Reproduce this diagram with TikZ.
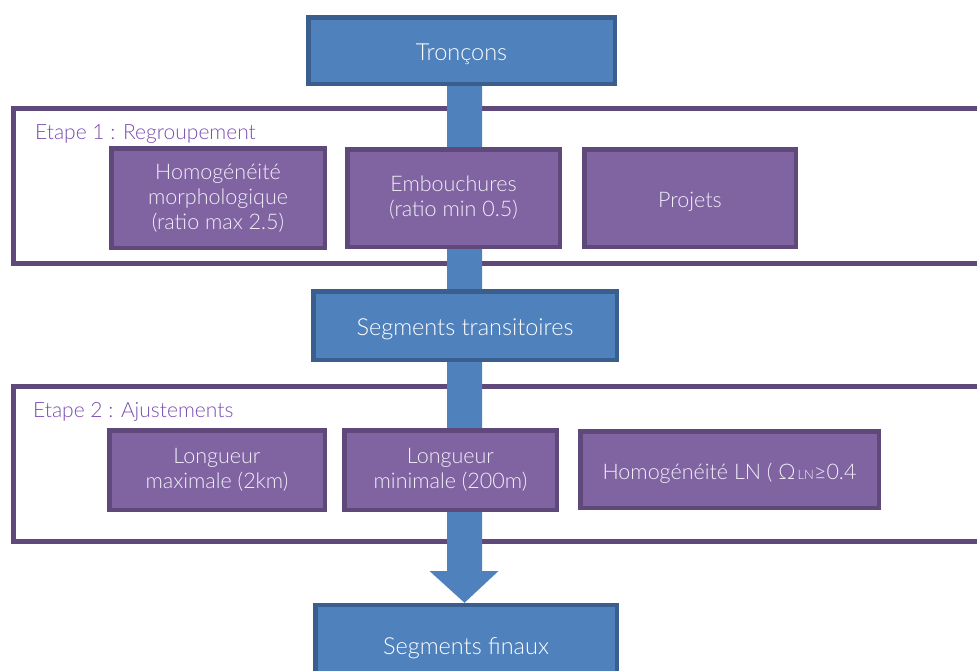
\documentclass[tikz,border=0pt]{standalone}
\usepackage{fontspec}
\setmainfont{Lato}[UprightFont=* Light]
\usetikzlibrary{calc}
\pgfdeclarelayer{back}
\pgfsetlayers{back,main}
\definecolor{bluefill}{HTML}{4F81BD}
\definecolor{blueedge}{HTML}{3A5F8E}
\definecolor{purplefill}{HTML}{8064A2}
\definecolor{purpleedge}{HTML}{5F497A}
\definecolor{purpletext}{HTML}{7B4DB0}
\definecolor{boxtext}{HTML}{F2EEF8}
\tikzset{
  stagebox/.style={draw=purpleedge, line width=5pt, fill=white},
  stagelabel/.style={anchor=west, text=purpletext, font=\fontsize{21}{24}\selectfont, inner sep=0pt},
  lowered/.style={execute at begin node={\rule{0pt}{#1}}},
  bluebox/.style={draw=blueedge, line width=4.5pt, fill=bluefill, text=white,
    font=\fontsize{23.5}{26}\selectfont, align=center, inner sep=0pt, lowered=24pt},
  purplebox/.style={draw=purpleedge, line width=4.5pt, fill=purplefill, text=boxtext,
    font=\fontsize{21.5}{25}\selectfont, align=center, inner sep=0pt, lowered=23pt}
}
\begin{document}
\begin{tikzpicture}[x=1pt,y=-1pt]
\useasboundingbox (0,0) rectangle (977,670);

% main flow nodes
\node[bluebox, minimum width=306.5pt, minimum height=66.5pt] (tron) at (461.5,50.5) {Tronçons};
\node[bluebox, minimum width=303.5pt, minimum height=68.5pt] (trans) at (465,325.5) {Segments transitoires};
\node[bluebox, minimum width=301.5pt, minimum height=80pt] (fin) at (466,645) {Segments finaux};

% step boxes, stage 1
\node[purplebox, minimum width=213.5pt, minimum height=99.5pt] (homo) at (218,198) {Homogénéité\\morphologique\\(ratio max 2.5)};
\node[purplebox, minimum width=212.5pt, minimum height=97.5pt] (emb) at (453.5,198) {Embouchures\\(ratio min 0.5)};
\node[purplebox, minimum width=211.5pt, minimum height=97.5pt] (proj) at (690,198) {Projets};

% step boxes, stage 2
\node[purplebox, minimum width=215.5pt, minimum height=79.5pt] (lmax) at (217,470) {Longueur\\maximale (2km)};
\node[purplebox, minimum width=212.5pt, minimum height=79.5pt] (lmin) at (450.5,470) {Longueur\\minimale (200m)};
\node[purplebox, minimum width=298.5pt, minimum height=76.5pt] (hln) at (729.5,469.5) {Homogénéité LN ( Ω{\fontsize{13}{14}\selectfont\,LN}≥0.4};

\begin{pgfonlayer}{back}
  % stage frames
  \draw[stagebox] (13.5,108.5) rectangle (995,263.5);
  \draw[stagebox] (13.5,386.5) rectangle (995,541.5);
  % flow arrow, above the frames and behind the boxes
  \coordinate (headbase) at (464.5,571);
  \fill[bluefill] ($(tron.south -| headbase)+(-17.5,0)$) -- ($(headbase)+(-17.5,0)$) -- ($(headbase)+(-35,0)$)
    -- (fin.north -| headbase) -- ($(headbase)+(34,0)$) -- ($(headbase)+(17.5,0)$)
    -- ($(tron.south -| headbase)+(17.5,0)$) -- cycle;
\end{pgfonlayer}

\node[stagelabel] (lab1) at (35,134) {Etape 1 : Regroupement};
\node[stagelabel] (lab2) at (33,412) {Etape 2 : Ajustements};
\end{tikzpicture}
\end{document}
